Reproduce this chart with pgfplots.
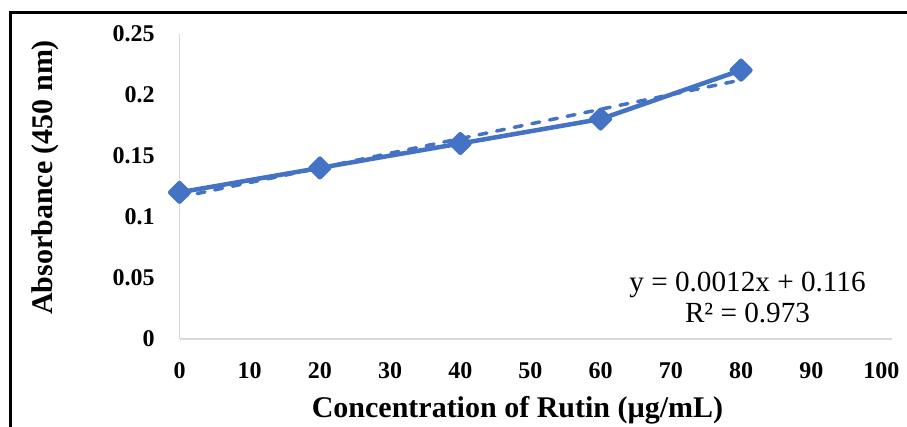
\documentclass[border=0pt]{standalone}
\usepackage{pgfplots}
\pgfplotsset{compat=1.18}
\usepackage{fontspec}
\setmainfont{Liberation Serif}
\definecolor{xblue}{HTML}{4472C4}
\definecolor{xgray}{HTML}{D9D9D9}
\begin{document}
\begin{tikzpicture}
\useasboundingbox (0,0) rectangle (453.5bp,213.5bp);
\draw[black, line width=1.5bp] (5.25bp,0) -- (5.25bp,207bp) -- (453.5bp,207bp);
\begin{axis}[
  at={(89.75bp,44bp)}, anchor=south west,
  scale only axis, width=356.25bp, height=152.75bp,
  xmin=0, xmax=101.5, ymin=0, ymax=0.25,
  axis lines*=left,
  axis line style={xgray, line width=0.75bp},
  xtick={0,10,20,30,40,50,60,70,80,90,100},
  xticklabels={0,10,20,30,40,50,60,70,80,90,100},
  ytick={0,0.05,0.1,0.15,0.2,0.25},
  yticklabels={0,0.05,0.1,0.15,0.2,0.25},
  major tick length=0pt,
  tick style={draw=none},
  ticklabel style={font=\bfseries\fontsize{12bp}{14bp}\selectfont},
  xticklabel style={anchor=north, inner sep=0pt, yshift=-11.5bp},
  yticklabel style={anchor=east, inner sep=0pt, xshift=-12.25bp},
  clip=false,
]
\addplot[xblue, line width=2.25bp, line join=round, mark=square*, mark size=3.3bp, mark options={rotate=45, solid, fill=xblue}]
  coordinates {(0,0.12) (20,0.14) (40,0.16) (60,0.18) (80,0.22)};
\addplot[xblue, line width=1.75bp, line cap=round, dash pattern=on 4bp off 5bp, forget plot]
  coordinates {(0,0.116) (80,0.212)};
\end{axis}
\node[rotate=90, anchor=base, inner sep=0pt, font=\bfseries\fontsize{15bp}{18bp}\selectfont] at (26bp,124.75bp) {Absorbance (450 nm)};
\node[anchor=base, inner sep=0pt, font=\bfseries\fontsize{15bp}{18bp}\selectfont] at (258.75bp,5bp) {Concentration of Rutin (µg/mL)};
\node[anchor=base, inner sep=0pt, font=\fontsize{14.6bp}{16bp}\selectfont] at (373.75bp,67.5bp) {y = 0.0012x + 0.116};
\node[anchor=base, inner sep=0pt, font=\fontsize{14.6bp}{16bp}\selectfont] at (373.75bp,52bp) {R² = 0.973};
\end{tikzpicture}
\end{document}
